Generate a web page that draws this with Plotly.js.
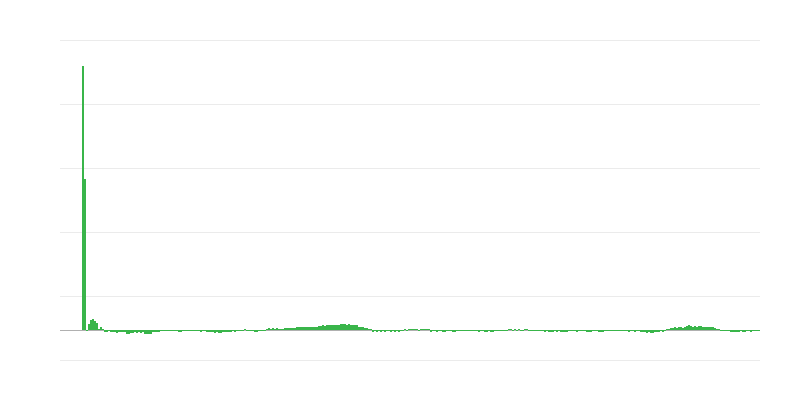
<!DOCTYPE html>
<html>
<head>
<meta charset="utf-8">
<script src="https://cdn.plot.ly/plotly-3.0.1.min.js"></script>
<style>html,body{margin:0;padding:0;background:#fff;}#chart{width:800px;height:400px;}</style>
</head>
<body>
<div id="chart"></div>
<script>
// Series values (one per bar)
const values = [
  264, 151, -0.7, 6, 10, 11.5, 9, 7, 1, 3,
  1, -2, -2, -0.7, -2, -2, -2, -3, -2, -2,
  -1.8, -1.8, -3.5, -3.5, -3, -3, -2, -3, -2, -3,
  -2, -3.5, -3.5, -4, -3.5, -1.8, -1.8, -1.5, -1.8, -0.7,
  -0.7, -0.7, -0.7, -0.7, -0.7, -0.7, -0.7, -0.7, -2, -2,
  -0.7, -0.7, -0.7, -0.7, -0.7, -0.7, -0.7, -0.7, -0.7, -2,
  -0.7, -0.7, -2, -2, -2, -2, -3, -2, -3, -3,
  -1.5, -1.5, -1.5, -1.8, -1.8, -0.7, -2, -0.7, -0.7, -0.7,
  -0.7, 1.5, -0.7, -0.7, -0.7, -0.7, -2, -2, -0.7, -0.7,
  -0.7, -0.7, 1, 2, 1, 2, 1, 2, 1, 1.5,
  1.5, 2, 2, 2.5, 2, 2.5, 2.5, 3, 3, 3,
  3, 3, 3, 3, 3, 3.5, 3.5, 3.5, 4, 4.5,
  5, 4.5, 5, 5, 5, 5.5, 5.5, 5.5, 5.5, 6.5,
  6.5, 6, 5.5, 6, 5, 5, 5, 5, 3, 3.5,
  3.5, 2, 2, 1, 1, -1.8, -0.7, -1.8, -0.7, -1.8,
  -0.7, -1.8, -0.7, -0.7, -1.8, -0.7, -1.8, -0.7, -1.8, -0.7,
  -0.7, 1, -0.7, 1, 1, 1.5, 1.5, 1.5, -0.7, 1.5,
  1.5, 1.5, 1.5, 1.5, -1.8, -0.7, -0.7, -1.8, -0.7, -0.7,
  -1.8, -1.8, -0.7, -0.7, -0.7, -1.8, -1.8, -0.7, -0.7, -0.7,
  -0.7, -0.7, -0.7, -0.7, -0.7, -0.7, -0.7, -0.7, -1.8, -0.7,
  -0.7, -1.8, -1.8, -0.7, -1.8, -1.8, -0.7, -0.7, -0.7, -0.7,
  -0.7, -0.7, -0.7, 1, 1, -0.7, 1, -0.7, 1, -0.7,
  -0.7, 1, 1, -0.7, -0.7, -0.7, -0.7, -0.7, -0.7, -0.7,
  -0.7, -1.8, -0.7, -1.8, -1.8, -1.8, -0.7, -1.8, -0.7, -1.8,
  -1.8, -2, -2, -0.7, -0.7, -0.7, -0.7, -1.8, -0.7, -0.7,
  -0.7, -0.7, -1.8, -1.8, -1.8, -0.7, -0.7, -0.7, -2, -1.8,
  -1.8, -0.7, -0.7, -0.7, -0.7, -0.7, -0.7, -0.7, -0.7, -0.7,
  -0.7, -0.7, -0.7, -1.8, -0.7, -0.7, -1.8, -0.7, -0.7, -1.8,
  -2, -2, -3, -2, -3, -3, -2, -1.8, -1.8, -0.7,
  -2, -0.7, 1, 1.5, 2, 2, 3, 2, 3, 3,
  2.5, 3, 4, 5, 4, 3, 4, 3.5, 4, 4,
  3, 3, 3, 3, 3, 3, 2, 1, 1, -0.7,
  -0.7, -0.7, -0.7, -0.7, -1.8, -1.8, -1.8, -1.8, -1.8, -0.7,
  -1.8, -1.8, -0.7, -0.7, -1.8, -0.7, -0.7, -0.7, -0.7
];
// Category positions (bar index)
const positions = values.map((v, i) => i);

const trace = {
  type: 'bar',
  x: positions,
  y: values,
  marker: { color: '#39b54a', line: { width: 0 } },
  hoverinfo: 'skip'
};

const layout = {
  width: 800,
  height: 400,
  margin: { l: 60, r: 40, t: 38, b: 38 },
  paper_bgcolor: '#ffffff',
  plot_bgcolor: '#ffffff',
  bargap: 0,
  showlegend: false,
  xaxis: {
    range: [-11.5, 338.5],
    showgrid: false,
    zeroline: false,
    showticklabels: false,
    showline: false,
    ticks: ''
  },
  yaxis: {
    range: [-32, 292],
    tick0: -30,
    dtick: 64,
    showgrid: true,
    gridcolor: '#ebebeb',
    gridwidth: 1,
    zeroline: true,
    zerolinecolor: '#b0b0b0',
    zerolinewidth: 1,
    showticklabels: false,
    ticks: '',
    showline: false
  }
};

Plotly.newPlot('chart', [trace], layout, { staticPlot: true, displayModeBar: false });
</script>
</body>
</html>
